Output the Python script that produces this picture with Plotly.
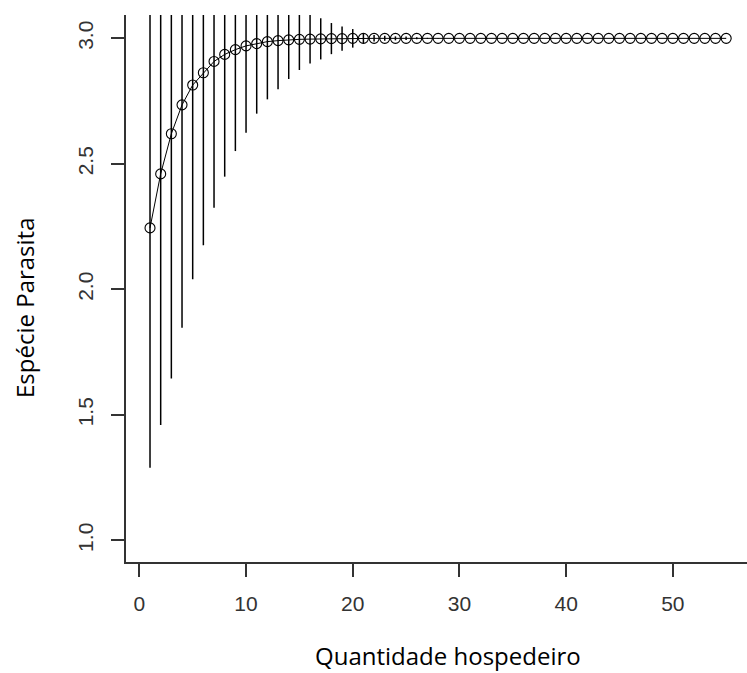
import plotly.graph_objects as go

# Data
hosts = list(range(1, 56))
species_mean = [2.245, 2.460, 2.620, 2.735, 2.814, 2.863, 2.908, 2.936, 2.955, 2.970,
                2.979, 2.987, 2.991, 2.994, 2.996, 2.997, 2.998, 2.999, 2.999, 3.000,
                3.000, 3.000, 3.000, 3.000, 3.000, 3.000, 3.000, 3.000, 3.000, 3.000,
                3.000, 3.000, 3.000, 3.000, 3.000, 3.000, 3.000, 3.000, 3.000, 3.000,
                3.000, 3.000, 3.000, 3.000, 3.000, 3.000, 3.000, 3.000, 3.000, 3.000,
                3.000, 3.000, 3.000, 3.000, 3.000]
species_sd = [0.956, 1.000, 0.975, 0.888, 0.774, 0.687, 0.583, 0.487, 0.404, 0.346,
              0.279, 0.230, 0.194, 0.156, 0.122, 0.097, 0.082, 0.062, 0.048, 0.037,
              0.020, 0.013, 0.010, 0.008, 0.007, 0.004, 0.002, 0.001, 0.0, 0.0,
              0.0, 0.0, 0.0, 0.0, 0.0, 0.0, 0.0, 0.0, 0.0, 0.0,
              0.0, 0.0, 0.0, 0.0, 0.0, 0.0, 0.0, 0.0, 0.0, 0.0,
              0.0, 0.0, 0.0, 0.0, 0.0]
x_ticks = [0, 10, 20, 30, 40, 50]
y_ticks = [1.0, 1.5, 2.0, 2.5, 3.0]
y_ticklabels = ["1.0", "1.5", "2.0", "2.5", "3.0"]
x_title = "Quantidade hospedeiro"
y_title = "Espécie Parasita"

fig = go.Figure()
fig.add_trace(go.Scatter(
    x=hosts, y=species_mean,
    mode="lines+markers",
    line=dict(color="black", width=1),
    marker=dict(symbol="circle-open", size=10, color="black", line=dict(width=1.1)),
    error_y=dict(type="data", array=species_sd, visible=True,
                 color="black", thickness=1.5, width=0),
    showlegend=False,
))

L, R, T, B = 126, 0, 15, 111
W, H = 747, 673
pw, ph = W - L - R, H - T - B

axis_font = dict(family="Liberation Sans, Arial, sans-serif", size=21, color="#333333")

fig.update_layout(
    width=W, height=H,
    margin=dict(l=L, r=R, t=T, b=B, pad=0),
    paper_bgcolor="white", plot_bgcolor="white",
    xaxis=dict(range=[-1.25, 56.95], tickvals=x_ticks, ticks="outside", ticklen=13,
               tickwidth=1.5, tickcolor="#333333", showline=True, linecolor="#333333",
               linewidth=1.5, showgrid=False, zeroline=False, tickfont=axis_font,
               ticklabelstandoff=9),
    yaxis=dict(range=[0.914, 3.093], tickvals=y_ticks, ticktext=y_ticklabels,
               ticks="outside", ticklen=13, tickwidth=1.5, tickcolor="#333333",
               showline=True, linecolor="#333333", linewidth=1.5, showgrid=False,
               zeroline=False, tickfont=axis_font, tickangle=-90,
               ticklabelstandoff=10),
    annotations=[
        dict(text=x_title, xref="paper", yref="paper",
             x=(448 - L) / pw, y=(H - B - 655) / ph, xanchor="center", yanchor="middle",
             showarrow=False, font=dict(family="Open Sans, sans-serif", size=24, color="black")),
        dict(text=y_title, xref="paper", yref="paper", textangle=-90,
             x=(24 - L) / pw, y=(H - B - 308) / ph, xanchor="center", yanchor="middle",
             showarrow=False, font=dict(family="Open Sans, sans-serif", size=24, color="black")),
    ],
)

fig.write_html("out.html")
